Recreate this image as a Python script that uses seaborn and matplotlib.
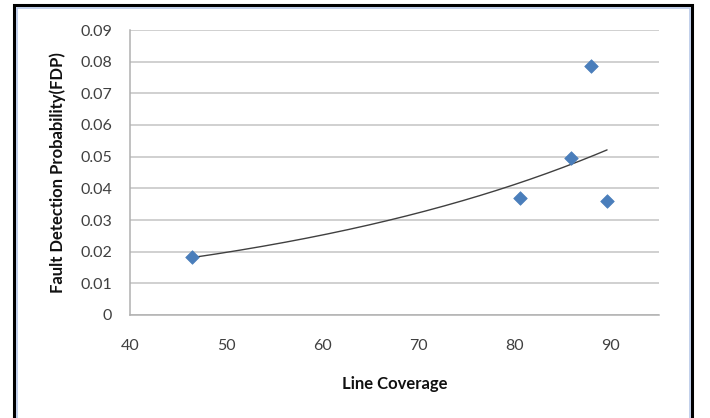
import numpy as np
import pandas as pd
import seaborn as sns
import matplotlib
matplotlib.use("Agg")
import matplotlib.pyplot as plt
from matplotlib.patches import Rectangle

# Data
line_coverage = [46.4, 80.6, 85.9, 87.9, 89.6]
fdp = [0.0182, 0.0368, 0.0497, 0.0787, 0.0359]
x_ticks = [40, 50, 60, 70, 80, 90]
y_ticks = [0, 0.01, 0.02, 0.03, 0.04, 0.05, 0.06, 0.07, 0.08, 0.09]
y_tick_labels = ["0", "0.01", "0.02", "0.03", "0.04", "0.05", "0.06", "0.07", "0.08", "0.09"]

df = pd.DataFrame({"Line Coverage": line_coverage, "FDP": fdp})

sns.set_theme(style="white")
plt.rcParams["font.family"] = ["Lato", "DejaVu Sans"]

W, H = 710, 418
fig = plt.figure(figsize=(W / 100, H / 100), dpi=100)
ax = fig.add_axes([130 / W, 1 - 315 / H, (659 - 130) / W, (315 - 30) / H])

# Exponential trendline (Excel-style) fitted to the data
b, ln_a = np.polyfit(df["Line Coverage"], np.log(df["FDP"]), 1)
xs = np.linspace(min(line_coverage), max(line_coverage), 200)
trend = pd.DataFrame({"x": xs, "y": np.exp(ln_a) * np.exp(b * xs)})
sns.lineplot(data=trend, x="x", y="y", ax=ax, color="#404040", linewidth=1.0, zorder=3)

sns.scatterplot(data=df, x="Line Coverage", y="FDP", ax=ax, marker="D", s=48,
                color="#4a7ebb", edgecolor="#4a7ebb", linewidth=0.5, zorder=4)

ax.set_xlim(40, 95)
ax.set_ylim(0, 0.09)
ax.set_xticks(x_ticks)
ax.set_yticks(y_ticks)
ax.set_yticklabels(y_tick_labels)
ax.grid(axis="y", color="#c4c4c4", linewidth=1.1)
ax.grid(axis="x", visible=False)
for s in ["top", "right"]:
    ax.spines[s].set_visible(False)
for s in ["left", "bottom"]:
    ax.spines[s].set_color("#b0b0b0")
    ax.spines[s].set_linewidth(1.1)
ax.tick_params(axis="x", length=0, pad=17, labelsize=11.5, labelcolor="#404040")
ax.tick_params(axis="y", length=0, pad=13, labelsize=11.5, labelcolor="#404040")
ax.set_xlabel("Line Coverage", fontsize=12, fontweight="bold", labelpad=17, color="#111111")
ax.set_ylabel("Fault Detection Probability(FDP)", fontsize=12, fontweight="bold",
              labelpad=10, color="#111111")

# Outer chart frame (black with light-blue inner line)
fig.patches.append(Rectangle((14 / W, -0.05), (692 - 14) / W, 1.05 - 5 / H,
                             transform=fig.transFigure, fill=False,
                             edgecolor="black", linewidth=2.2, zorder=10))
fig.patches.append(Rectangle((16.5 / W, -0.05), (689.5 - 16.5) / W, 1.05 - 7.5 / H,
                             transform=fig.transFigure, fill=False,
                             edgecolor="#b8c8e8", linewidth=1.2, zorder=10))

fig.savefig("out.png", dpi=100)
